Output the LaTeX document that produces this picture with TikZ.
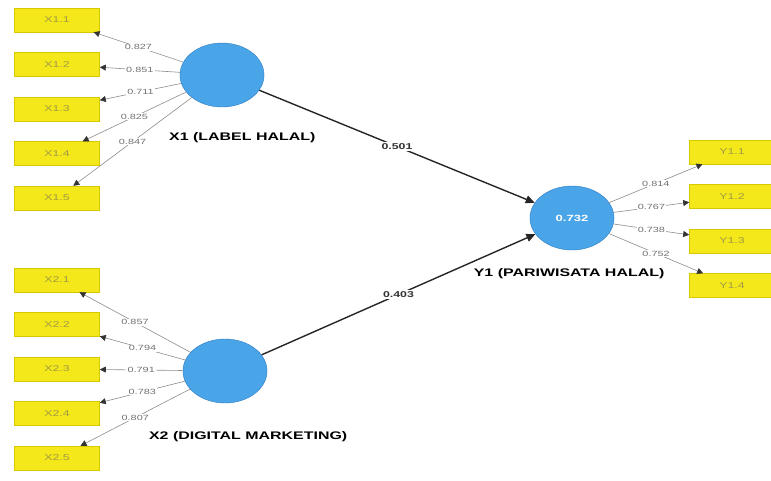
\documentclass[tikz,border=0pt]{standalone}
\usepackage{fontspec}
\setmainfont{Liberation Sans}
\usetikzlibrary{positioning,shapes.geometric,arrows.meta}
\definecolor{lvblue}{HTML}{4AA5E8}
\definecolor{lvedge}{HTML}{2E7BC2}
\definecolor{mvyellow}{HTML}{F4E81A}
\definecolor{mvedge}{HTML}{D8C800}
\definecolor{mvtext}{HTML}{A09A45}

\begin{document}
\begin{tikzpicture}[x=1pt,y=-1pt,node distance=44.5pt,
  latent/.style={ellipse,draw=lvedge,fill=lvblue,minimum width=58pt,minimum height=64pt,
    inner sep=0pt,xscale=1.45,text=white,font=\fontsize{9}{9}\selectfont\bfseries},
  ind/.style={rectangle,draw=mvedge,fill=mvyellow,minimum width=58.6pt,minimum height=24pt,
    inner sep=0pt,xscale=1.45,text=mvtext,font=\fontsize{8.5}{8.5}\selectfont},
  lvname/.style={xscale=1.45,font=\fontsize{11}{11}\selectfont\bfseries},
  loadline/.style={draw=black!45,line width=0.6pt,-{Triangle[length=6pt,width=6pt,color=black!80]}},
  ldval/.style={fill=white,inner sep=0.8pt,xscale=1.45,text=black!55,font=\fontsize{7.5}{7.5}\selectfont},
  struct/.style={draw=black!85,line width=1.4pt,-{Triangle[length=9pt,width=8pt]}},
  coefval/.style={fill=white,inner sep=1.5pt,xscale=1.45,text=black!80,font=\fontsize{8.5}{8.5}\selectfont\bfseries}]
\useasboundingbox (0,0) rectangle (771,480);

% latent variables
\node[latent] (X1) at (222,75)  {};
\node[latent] (X2) at (225,371) {};
\node[latent] (Y1) at (572,218) {0.732};

\node[lvname, below=22pt of X1, xshift=14pt]  (X1name) {X1 (LABEL HALAL)};
\node[lvname, below=25pt of X2, xshift=16pt]  (X2name) {X2 (DIGITAL MARKETING)};
\node[lvname, below=15pt of Y1, xshift=-2pt]  (Y1name) {Y1 (PARIWISATA HALAL)};

% indicators
\node[ind] (X11) at (57,20)     {X1.1};
\node[ind] (X12) [below of=X11] {X1.2};
\node[ind] (X13) [below of=X12] {X1.3};
\node[ind] (X14) [below of=X13] {X1.4};
\node[ind] (X15) [below of=X14] {X1.5};

\node[ind] (X21) at (57,280)    {X2.1};
\node[ind] (X22) [below of=X21] {X2.2};
\node[ind] (X23) [below of=X22] {X2.3};
\node[ind] (X24) [below of=X23] {X2.4};
\node[ind] (X25) [below of=X24] {X2.5};

\node[ind] (Y11) at (732,152)   {Y1.1};
\node[ind] (Y12) [below of=Y11] {Y1.2};
\node[ind] (Y13) [below of=Y12] {Y1.3};
\node[ind] (Y14) [below of=Y13] {Y1.4};

\path
	(X1) edge[loadline] node[ldval]{0.827} (X11)
	(X1) edge[loadline] node[ldval]{0.851} (X12)
	(X1) edge[loadline] node[ldval]{0.711} (X13)
	(X1) edge[loadline] node[ldval]{0.825} (X14)
	(X1) edge[loadline] node[ldval]{0.847} (X15)

	(X2) edge[loadline] node[ldval]{0.857} (X21)
	(X2) edge[loadline] node[ldval]{0.794} (X22)
	(X2) edge[loadline] node[ldval]{0.791} (X23)
	(X2) edge[loadline] node[ldval]{0.783} (X24)
	(X2) edge[loadline] node[ldval]{0.807} (X25)

	(Y1) edge[loadline] node[ldval]{0.814} (Y11)
	(Y1) edge[loadline] node[ldval]{0.767} (Y12)
	(Y1) edge[loadline] node[ldval]{0.738} (Y13)
	(Y1) edge[loadline] node[ldval]{0.752} (Y14)

	(X1) edge[struct] node[coefval]{0.501} (Y1)
	(X2) edge[struct] node[coefval]{0.403} (Y1);
\end{tikzpicture}
\end{document}
